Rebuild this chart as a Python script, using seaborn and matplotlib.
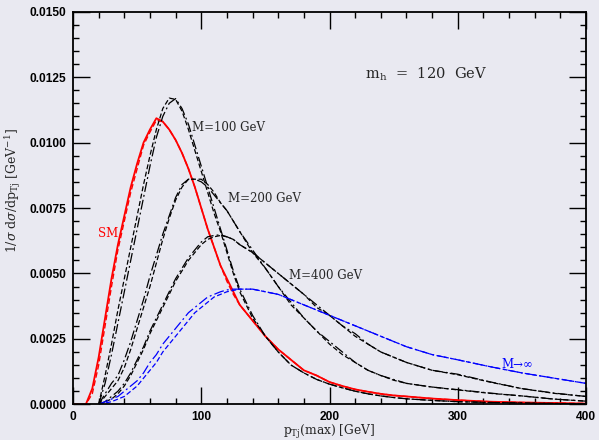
import numpy as np
import pandas as pd
import matplotlib
matplotlib.use("Agg")
import matplotlib.pyplot as plt
import seaborn as sns

nan = np.nan
# common pT grid [GeV]
pt = [0, 10, 15, 20, 25, 30, 35, 40, 45, 50, 55, 60, 65, 70, 75, 80, 85, 90, 95, 100,
      105, 110, 115, 120, 125, 130, 140, 150, 160, 170, 180, 190, 200, 210, 220, 230,
      240, 250, 260, 280, 300, 325, 350, 375, 400]

sm_solid = [0, 0, 0.0006, 0.0018, 0.0033, 0.0048, 0.0061, 0.0072, 0.0083, 0.0092, 0.0100,
            0.0105, 0.01093, 0.0108, 0.0105, 0.0101, 0.0096, 0.0090, 0.0083, 0.0075,
            0.0067, 0.0060, 0.0053, 0.0048, 0.0043, 0.0038, 0.0032, 0.0026, 0.0021,
            0.0017, 0.0013, 0.0011, 0.00085, 0.0007, 0.00057, 0.00048, 0.0004, 0.00034,
            0.0003, 0.00022, 0.00016, 0.0001, 0.00007, 0.00005, 0.00003]
sm_dash = [0, 0, 0.0004, 0.0015, 0.0030, 0.0045, 0.0059, 0.0070, 0.0081, 0.0090, 0.0099,
           0.0104, 0.01085, 0.0108, 0.0105, 0.0101, 0.0096, 0.0090, 0.0083, 0.0075,
           0.0067, 0.0060, 0.0053, 0.0047, 0.0042, 0.0038, 0.0032, 0.0026, 0.0021,
           0.0017, 0.0013, 0.0011, 0.00085, 0.0007, 0.00057, 0.00048, 0.0004, 0.00034,
           0.0003, 0.00022, 0.00016, 0.0001, 0.00007, 0.00005, 0.00003]

m100_dash = [nan, nan, nan, 0, 0.0011, 0.0023, 0.0036, 0.0048, 0.0060, 0.0072, 0.0084,
             0.0095, 0.0105, 0.0113, 0.0117, 0.01165, 0.0112, 0.0105, 0.0097, 0.0089,
             0.0081, 0.0073, 0.0066, 0.0058, 0.0050, 0.0043, 0.0033, 0.0026, 0.0020,
             0.0015, 0.0012, 0.00095, 0.00077, 0.00063, 0.0005, 0.0004, 0.00032,
             0.00026, 0.00021, 0.00015, 0.0001, 0.00007, 0.00005, 0.00003, 0.00002]
m100_dd = [nan, nan, nan, 0, 0.0008, 0.0019, 0.0031, 0.0043, 0.0055, 0.0067, 0.0079,
           0.0091, 0.0102, 0.0110, 0.0115, 0.01168, 0.0113, 0.0107, 0.0099, 0.0091,
           0.0083, 0.0075, 0.0067, 0.0059, 0.0051, 0.0044, 0.0034, 0.0026, 0.0020,
           0.0015, 0.0012, 0.00095, 0.00077, 0.00063, 0.0005, 0.0004, 0.00032,
           0.00026, 0.00021, 0.00015, 0.0001, 0.00007, 0.00005, 0.00003, 0.00002]

m200_dash = [nan, nan, nan, 0, 0.0003, 0.0006, 0.0009, 0.0014, 0.0021, 0.0029, 0.0037,
             0.0045, 0.0054, 0.0063, 0.0071, 0.0078, 0.0083, 0.0086, 0.0086, 0.0086,
             0.0084, 0.0081, 0.0077, 0.0074, 0.0070, 0.0066, 0.0058, 0.0052, 0.0045,
             0.0038, 0.0033, 0.0028, 0.0023, 0.0019, 0.0016, 0.0013, 0.0011, 0.00092,
             0.0008, 0.00066, 0.00055, 0.00042, 0.00032, 0.0002, 0.00012]
m200_dd = [nan, nan, nan, 0, 0.0004, 0.0008, 0.0011, 0.0017, 0.0024, 0.0032, 0.0040,
           0.0049, 0.0057, 0.0065, 0.0072, 0.0079, 0.0084, 0.0086, 0.0086, 0.0085,
           0.0083, 0.0080, 0.0077, 0.0074, 0.0070, 0.0066, 0.0059, 0.0052, 0.0045,
           0.0039, 0.0033, 0.0028, 0.0024, 0.0020, 0.0016, 0.0013, 0.0011, 0.00095,
           0.0008, 0.00066, 0.00056, 0.00043, 0.00032, 0.0002, 0.00012]

m400_dash = [nan, nan, nan, 0, 0.0001, 0.0002, 0.0004, 0.0007, 0.0011, 0.0016, 0.0021,
             0.0027, 0.0032, 0.0037, 0.0042, 0.0047, 0.0051, 0.0055, 0.0058, 0.0061,
             0.0063, 0.0064, 0.00645, 0.0064, 0.0063, 0.0061, 0.0058, 0.0054, 0.0050,
             0.0046, 0.0042, 0.0037, 0.0034, 0.0030, 0.0026, 0.0023, 0.0020, 0.0018,
             0.0016, 0.0013, 0.00113, 0.00085, 0.0006, 0.00042, 0.0003]
m400_dd = [nan, nan, nan, 0, 0.0001, 0.0003, 0.0005, 0.0008, 0.0012, 0.0017, 0.0022,
           0.0028, 0.0033, 0.0038, 0.0043, 0.0048, 0.0052, 0.0056, 0.0059, 0.0062,
           0.0064, 0.00645, 0.00648, 0.0064, 0.0063, 0.0061, 0.0058, 0.0054, 0.0050,
           0.0046, 0.0042, 0.0038, 0.0034, 0.0030, 0.0027, 0.0023, 0.0020, 0.0018,
           0.0016, 0.0013, 0.00115, 0.00086, 0.0006, 0.00043, 0.0003]

minf_dd = [nan, nan, nan, 0, 0.0001, 0.0002, 0.0003, 0.0005, 0.0007, 0.0009, 0.0012,
           0.0016, 0.0019, 0.0023, 0.0026, 0.0029, 0.0032, 0.0035, 0.0037, 0.0039,
           0.0041, 0.0042, 0.0043, 0.00437, 0.0044, 0.0044, 0.0044, 0.0043, 0.0042,
           0.0040, 0.0038, 0.0036, 0.0034, 0.0032, 0.0030, 0.0028, 0.0026, 0.0024,
           0.0022, 0.0019, 0.0017, 0.00144, 0.0012, 0.001, 0.0008]
minf_dash = [nan, nan, nan, 0, 0.00005, 0.0001, 0.0002, 0.0003, 0.0005, 0.0007, 0.0010,
             0.0013, 0.0016, 0.0020, 0.0023, 0.0026, 0.0029, 0.0032, 0.0035, 0.0037,
             0.0039, 0.0041, 0.0042, 0.0043, 0.00435, 0.0044, 0.0044, 0.0043, 0.0042,
             0.0040, 0.0038, 0.0036, 0.0034, 0.0032, 0.0030, 0.0028, 0.0026, 0.0024,
             0.0022, 0.0019, 0.0017, 0.00144, 0.0012, 0.001, 0.0008]

x_ticks = [0, 100, 200, 300, 400]
y_ticks = [0.0, 0.0025, 0.0050, 0.0075, 0.0100, 0.0125, 0.0150]
y_tick_labels = ["0.0000", "0.0025", "0.0050", "0.0075", "0.0100", "0.0125", "0.0150"]

BG = "#E9E9F1"
sns.set_theme(style="dark", rc={"axes.facecolor": BG, "figure.facecolor": BG})
plt.rcParams["mathtext.fontset"] = "dejavuserif"

fig = plt.figure(figsize=(5.99, 4.40), dpi=100)
ax = fig.add_axes([0.1219, 0.0811, 0.8564, 0.8923])

DASH = (0, (4, 2))
DASHDOT = (0, (8, 2.5, 1.5, 2.5))
series = [
    (sm_solid, "#ff0000", "-", 1.3),
    (sm_dash, "#ff0000", DASH, 1.0),
    (m100_dash, "black", DASH, 0.9),
    (m100_dd, "black", DASHDOT, 0.9),
    (m200_dash, "black", DASH, 0.9),
    (m200_dd, "black", DASHDOT, 0.9),
    (m400_dash, "black", DASH, 0.9),
    (m400_dd, "black", DASHDOT, 0.9),
    (minf_dash, "#0000ff", DASH, 0.9),
    (minf_dd, "#0000ff", DASHDOT, 0.9),
]
for ys, col, ls, lw in series:
    df = pd.DataFrame({"pt": pt, "val": ys}).dropna()
    sns.lineplot(data=df, x="pt", y="val", ax=ax, color=col, linestyle=ls,
                 linewidth=lw, estimator=None, sort=False)

ax.set_xlim(0, 400)
ax.set_ylim(0, 0.015)
ax.set_xticks(x_ticks)
ax.set_xticklabels([str(v) for v in x_ticks])
ax.set_yticks(y_ticks)
ax.set_yticklabels(y_tick_labels)
ax.set_xticks(np.arange(0, 401, 20), minor=True)
ax.set_yticks(np.arange(0, 0.01501, 0.0005), minor=True)
ax.tick_params(which="both", direction="in", top=True, right=True, bottom=True, left=True,
               colors="black", width=1.0)
ax.tick_params(which="major", length=12, pad=5)
ax.tick_params(which="minor", length=4)
for lab in ax.get_xticklabels() + ax.get_yticklabels():
    lab.set_fontfamily("Liberation Sans")
    lab.set_fontweight("bold")
    lab.set_fontsize(8.6)
for sp in ax.spines.values():
    sp.set_color("black")
    sp.set_linewidth(1.3)

serif = "DejaVu Serif"
ax.set_xlabel(r"p$_\mathregular{Tj}$(max) [GeV]", family=serif, fontsize=8.8)
ax.xaxis.set_label_coords(0.5, -0.047)
ax.set_ylabel(r"1/$\sigma$ d$\sigma$/dp$_\mathregular{Tj}$ [GeV$^\mathregular{-1}$]",
              family=serif, fontsize=9)
ax.yaxis.set_label_coords(-0.097, 0.545)

ax.text(227.7, 0.01259, r"m$_\mathregular{h}$  =  120  GeV", family=serif, fontsize=10.5,
        va="center", ha="left")
ax.text(92.5, 0.01057, "M=100 GeV", family=serif, fontsize=8.5, va="center", ha="left")
ax.text(121.1, 0.00787, "M=200 GeV", family=serif, fontsize=8.5, va="center", ha="left")
ax.text(168.7, 0.00494, "M=400 GeV", family=serif, fontsize=8.5, va="center", ha="left")
ax.text(19.5, 0.00654, "SM", family=serif, fontsize=8.5, color="#ff0000",
        va="center", ha="left")
ax.text(334, 0.00154, "M→∞", family=serif, fontsize=8.5, color="#0000ff",
        va="center", ha="left")

fig.savefig("out.png", dpi=100, facecolor=BG)
